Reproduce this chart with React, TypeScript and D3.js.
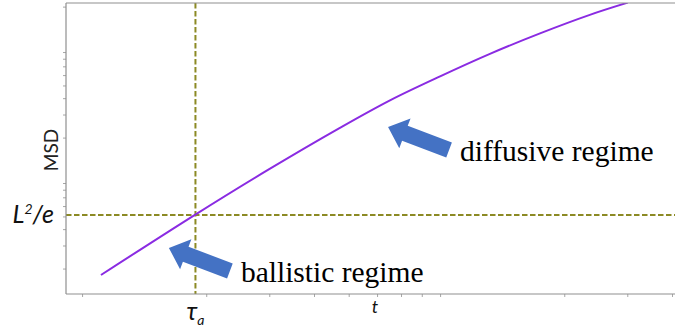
import React from "react";
import * as d3 from "d3";

// MSD curve samples (t, MSD) on log-log axes
const tValues = [1.013, 1.854, 2.965, 4.71, 6.5, 8.97, 12.36, 17.06, 23.5, 30.0];
const msdValues = [0.1802, 0.519, 1.143, 2.395, 3.885, 5.923, 8.797, 12.61, 17.46, 21.64];

// Reference levels
const tauA = 1.86;
const plateau = 0.517; // L^2/e
const tLabelAt = 5.9;

// Regime annotations: arrow tip in data units
const annotationLabels = ["ballistic regime", "diffusive regime"];
const annotationTipT = [1.568, 6.42];
const annotationTipMsd = [0.29, 2.43];

const W = 675;
const H = 336;
const left = 66;
const top = 3;
const bottom = 294;
const rightEdge = 680;

function minorTicks(domain: [number, number]) {
  const out: number[] = [];
  for (let e = -2; e <= 3; e++) {
    for (let k = 2; k <= 9; k++) {
      const v = k * Math.pow(10, e);
      if (v >= domain[0] && v <= domain[1]) out.push(v);
    }
  }
  return out;
}

function blockArrow(tx: number, ty: number, bx: number, by: number, shaftW: number, headW: number, headL: number) {
  const dx = bx - tx;
  const dy = by - ty;
  const len = Math.hypot(dx, dy);
  const ux = dx / len;
  const uy = dy / len;
  const nx = -uy;
  const ny = ux;
  const hx = tx + ux * headL;
  const hy = ty + uy * headL;
  const pts: [number, number][] = [
    [tx, ty],
    [hx + nx * headW / 2, hy + ny * headW / 2],
    [hx + nx * shaftW / 2, hy + ny * shaftW / 2],
    [bx + nx * shaftW / 2, by + ny * shaftW / 2],
    [bx - nx * shaftW / 2, by - ny * shaftW / 2],
    [hx - nx * shaftW / 2, hy - ny * shaftW / 2],
    [hx - nx * headW / 2, hy - ny * headW / 2],
  ];
  return "M" + pts.map((p) => p.join(",")).join("L") + "Z";
}

export default function App() {
  const xDomain: [number, number] = [0.809, 41.97];
  const yDomain: [number, number] = [0.129, 21.5];
  const x = d3.scaleLog().domain(xDomain).range([left, rightEdge]);
  const y = d3.scaleLog().domain(yDomain).range([bottom, top]);

  const data = tValues.map((t, i) => [t, msdValues[i]] as [number, number]);
  const line = d3
    .line<[number, number]>()
    .x((d) => x(d[0]))
    .y((d) => y(d[1]))
    .curve(d3.curveCatmullRom.alpha(0.5));

  const xMinor = minorTicks(xDomain);
  const yMinor = minorTicks(yDomain);

  const spine = "#8f8f8f";
  const refColor = "#8c8a24";

  const arrows = annotationLabels.map((label, i) => {
    const tx = x(annotationTipT[i]);
    const ty = y(annotationTipMsd[i]);
    return { label, tx, ty };
  });

  return (
    <svg
      width={W}
      height={H}
      style={{ position: "absolute", left: 0, top: 0, background: "#fff" }}
    >
      <defs>
        <clipPath id="plot-area">
          <rect x={left} y={top} width={rightEdge - left} height={bottom - top} />
        </clipPath>
      </defs>
      <rect width={W} height={H} fill="#fff" />

      {/* minor ticks */}
      {xMinor.map((v) => (
        <line key={"xm" + v} x1={x(v)} x2={x(v)} y1={bottom} y2={bottom + 3} stroke={spine} strokeWidth={0.8} />
      ))}
      {yMinor.map((v) => (
        <line key={"ym" + v} x1={left - 3} x2={left} y1={y(v)} y2={y(v)} stroke={spine} strokeWidth={0.8} />
      ))}

      {/* reference lines and curve */}
      <g clipPath="url(#plot-area)">
        <line x1={left} x2={rightEdge} y1={y(plateau)} y2={y(plateau)} stroke={refColor} strokeWidth={2} strokeDasharray="5.5,2.5" />
        <line x1={x(tauA)} x2={x(tauA)} y1={top} y2={bottom} stroke={refColor} strokeWidth={2} strokeDasharray="5.5,2.5" />
        <path d={line(data) || ""} fill="none" stroke="#8a2be2" strokeWidth={2} />
      </g>

      {/* spines */}
      <line x1={left} x2={left} y1={top} y2={bottom} stroke={spine} strokeWidth={1.2} />
      <line x1={left} x2={rightEdge} y1={bottom} y2={bottom} stroke={spine} strokeWidth={1.2} />
      <line x1={left} x2={rightEdge} y1={top} y2={top} stroke={spine} strokeWidth={1.2} />

      {/* axis labels */}
      <text transform="translate(58,150) rotate(-90)" textAnchor="middle" fontFamily="Lato" fontSize={19} fill="#222">
        MSD
      </text>
      <text x={54} y={y(plateau) + 8} textAnchor="end" fontFamily="Lato" fontStyle="italic" fontSize={25} fill="#111">
        L<tspan dy={-9} fontSize={14}>2</tspan>
        <tspan dy={9}>/e</tspan>
      </text>
      <text x={x(tauA)} y={320} textAnchor="middle" fontFamily="Lato" fontStyle="italic" fontSize={25} fill="#111">
        τ<tspan dy={5} fontSize={14}>a</tspan>
      </text>
      <text x={x(tLabelAt)} y={313} textAnchor="middle" fontFamily="Lato" fontStyle="italic" fontSize={18} fill="#111">
        t
      </text>

      {/* regime annotations */}
      {arrows.map((a) => (
        <path key={"arrow-" + a.label} d={blockArrow(a.tx, a.ty, a.tx + 61, a.ty + 23, 16, 32, 18)} fill="#4472c4" />
      ))}
      {arrows.map((a) => (
        <text key={"text-" + a.label} x={a.tx + 72} y={a.ty + 34} fontSize={29.5} fontFamily="Liberation Serif" fill="#000">
          {a.label}
        </text>
      ))}
    </svg>
  );
}
